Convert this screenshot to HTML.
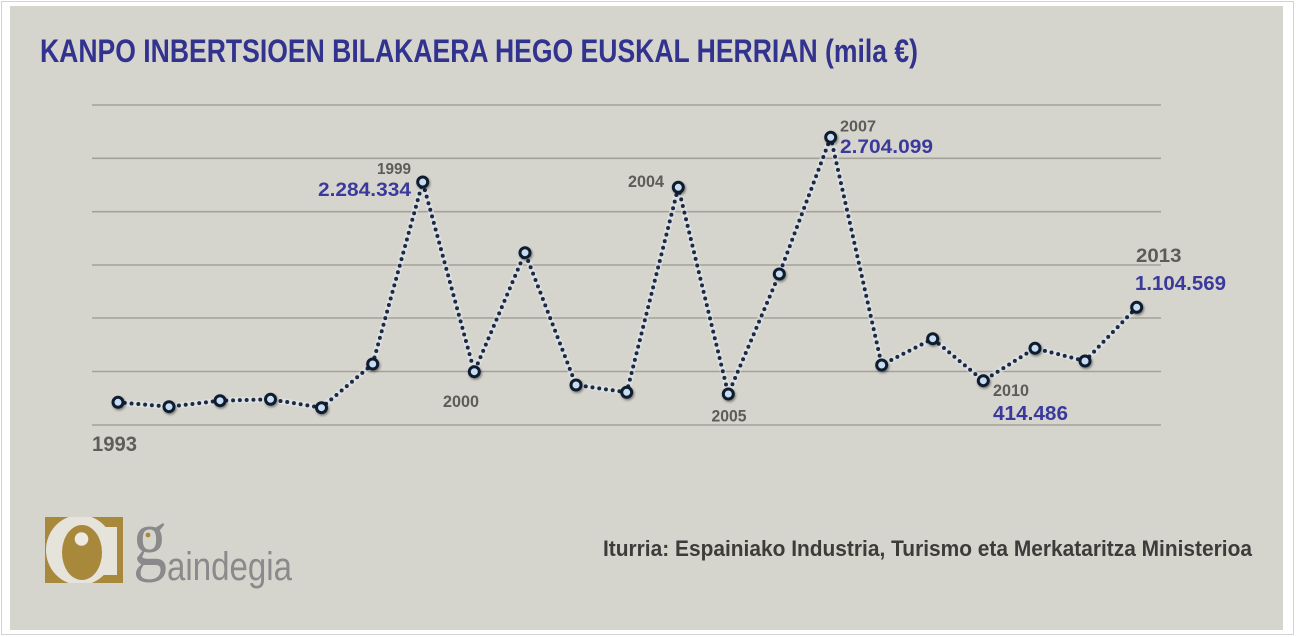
<!DOCTYPE html>
<html><head><meta charset="utf-8"><style>
html,body{margin:0;padding:0;background:#fff;}
svg{display:block;}
</style></head><body>
<svg width="1300" height="637" viewBox="0 0 1300 637" xmlns="http://www.w3.org/2000/svg">
<defs>
<filter id="sh" x="-50%" y="-50%" width="200%" height="200%">
<feDropShadow dx="1" dy="1.5" stdDeviation="1.2" flood-color="#000" flood-opacity="0.45"/>
</filter>
<clipPath id="lc"><rect x="45" y="517" width="78" height="66"/></clipPath>
</defs>
<rect x="0" y="0" width="1300" height="637" fill="#fff"/>
<rect x="1.5" y="1.5" width="1292" height="633" fill="none" stroke="#d2d2d2" stroke-width="1"/>
<rect x="10" y="6" width="1273" height="624" fill="#d6d5cd"/>

<text x="40" y="62" font-family="Liberation Sans, sans-serif" font-weight="bold" font-size="32" fill="#32338f" textLength="878" lengthAdjust="spacingAndGlyphs">KANPO INBERTSIOEN BILAKAERA HEGO EUSKAL HERRIAN (mila €)</text>

<g stroke="#a3a29a" stroke-width="1.6">
<line x1="92" y1="105" x2="1161" y2="105"/>
<line x1="92" y1="158.3" x2="1161" y2="158.3"/>
<line x1="92" y1="211.7" x2="1161" y2="211.7"/>
<line x1="92" y1="265" x2="1161" y2="265"/>
<line x1="92" y1="318" x2="1161" y2="318"/>
<line x1="92" y1="371.5" x2="1161" y2="371.5"/>
<line x1="92" y1="425" x2="1161" y2="425"/>
</g>

<polyline fill="none" stroke="#e4e9ee" stroke-opacity="0.55" stroke-width="6" stroke-linejoin="round"
points="118,402.3 169,406.7 220,400.7 270.5,399.3 321.5,407.7 372.7,364 422.7,182 474.3,371.7 525,252.7 576,385 626.7,392.3 678.3,187.3 728.3,394 779.3,274 830.7,137.3 881.7,365 932.7,338.7 983.3,380.7 1035,348.3 1085,361 1136.7,307.3"/>
<polyline fill="none" stroke="#1b2944" stroke-width="4" stroke-linecap="round" stroke-linejoin="round" stroke-dasharray="0 6.8"
points="118,402.3 169,406.7 220,400.7 270.5,399.3 321.5,407.7 372.7,364 422.7,182 474.3,371.7 525,252.7 576,385 626.7,392.3 678.3,187.3 728.3,394 779.3,274 830.7,137.3 881.7,365 932.7,338.7 983.3,380.7 1035,348.3 1085,361 1136.7,307.3"/>

<g fill="#c9ddf2" stroke="#0e1a2e" stroke-width="3" filter="url(#sh)">
<circle cx="118" cy="402.3" r="5"/>
<circle cx="169" cy="406.7" r="5"/>
<circle cx="220" cy="400.7" r="5"/>
<circle cx="270.5" cy="399.3" r="5"/>
<circle cx="321.5" cy="407.7" r="5"/>
<circle cx="372.7" cy="364" r="5"/>
<circle cx="422.7" cy="182" r="5"/>
<circle cx="474.3" cy="371.7" r="5"/>
<circle cx="525" cy="252.7" r="5"/>
<circle cx="576" cy="385" r="5"/>
<circle cx="626.7" cy="392.3" r="5"/>
<circle cx="678.3" cy="187.3" r="5"/>
<circle cx="728.3" cy="394" r="5"/>
<circle cx="779.3" cy="274" r="5"/>
<circle cx="830.7" cy="137.3" r="5"/>
<circle cx="881.7" cy="365" r="5"/>
<circle cx="932.7" cy="338.7" r="5"/>
<circle cx="983.3" cy="380.7" r="5"/>
<circle cx="1035" cy="348.3" r="5"/>
<circle cx="1085" cy="361" r="5"/>
<circle cx="1136.7" cy="307.3" r="5"/>
</g>

<g font-family="Liberation Sans, sans-serif">
<text x="92" y="451" font-size="21" font-weight="bold" fill="#5e5d58" textLength="45" lengthAdjust="spacingAndGlyphs">1993</text>
<text x="377" y="174" font-size="16" font-weight="bold" fill="#5d5c57" textLength="34" lengthAdjust="spacingAndGlyphs">1999</text>
<text x="318" y="196" font-size="19.5" font-weight="bold" fill="#3b3a9c" textLength="93" lengthAdjust="spacingAndGlyphs">2.284.334</text>
<text x="443" y="407" font-size="16.5" font-weight="bold" fill="#5d5c57" textLength="36" lengthAdjust="spacingAndGlyphs">2000</text>
<text x="628" y="187" font-size="16.5" font-weight="bold" fill="#5d5c57" textLength="36" lengthAdjust="spacingAndGlyphs">2004</text>
<text x="711.5" y="421.5" font-size="16.5" font-weight="bold" fill="#5d5c57" textLength="35" lengthAdjust="spacingAndGlyphs">2005</text>
<text x="840" y="131.5" font-size="16" font-weight="bold" fill="#5d5c57" textLength="36" lengthAdjust="spacingAndGlyphs">2007</text>
<text x="840" y="153" font-size="19.5" font-weight="bold" fill="#3b3a9c" textLength="93" lengthAdjust="spacingAndGlyphs">2.704.099</text>
<text x="993" y="396" font-size="16.5" font-weight="bold" fill="#5d5c57" textLength="36" lengthAdjust="spacingAndGlyphs">2010</text>
<text x="993" y="420" font-size="20" font-weight="bold" fill="#3b3a9c" textLength="75" lengthAdjust="spacingAndGlyphs">414.486</text>
<text x="1136" y="262" font-size="19.5" font-weight="bold" fill="#5d5c57" textLength="45.5" lengthAdjust="spacingAndGlyphs">2013</text>
<text x="1135" y="290" font-size="20" font-weight="bold" fill="#3b3a9c" textLength="91" lengthAdjust="spacingAndGlyphs">1.104.569</text>
<text x="603" y="556" font-size="22" font-weight="bold" fill="#3c3c3a" textLength="649" lengthAdjust="spacingAndGlyphs">Iturria: Espainiako Industria, Turismo eta Merkataritza Ministerioa</text>
</g>

<!-- logo -->
<g clip-path="url(#lc)">
<rect x="45" y="517" width="78" height="66" fill="#a8883a"/>
<ellipse cx="80" cy="550" rx="34" ry="35" fill="#e6e4da"/>
<rect x="100" y="527" width="17" height="48" fill="#e6e4da"/>
</g>
<ellipse cx="82" cy="552.5" rx="20" ry="27.5" fill="#a8883a"/>
<circle cx="81.5" cy="539" r="6.8" fill="#eceae2"/>
<text x="133" y="565" font-family="Liberation Serif, serif" font-size="82" fill="#8a8a8c" textLength="34" lengthAdjust="spacingAndGlyphs">g</text>
<circle cx="148" cy="535" r="2.4" fill="#a8883a"/>
<text x="167" y="580" font-family="Liberation Sans, sans-serif" font-size="40" fill="#8a8a8c" textLength="125" lengthAdjust="spacingAndGlyphs">aindegia</text>
</svg>
</body></html>
